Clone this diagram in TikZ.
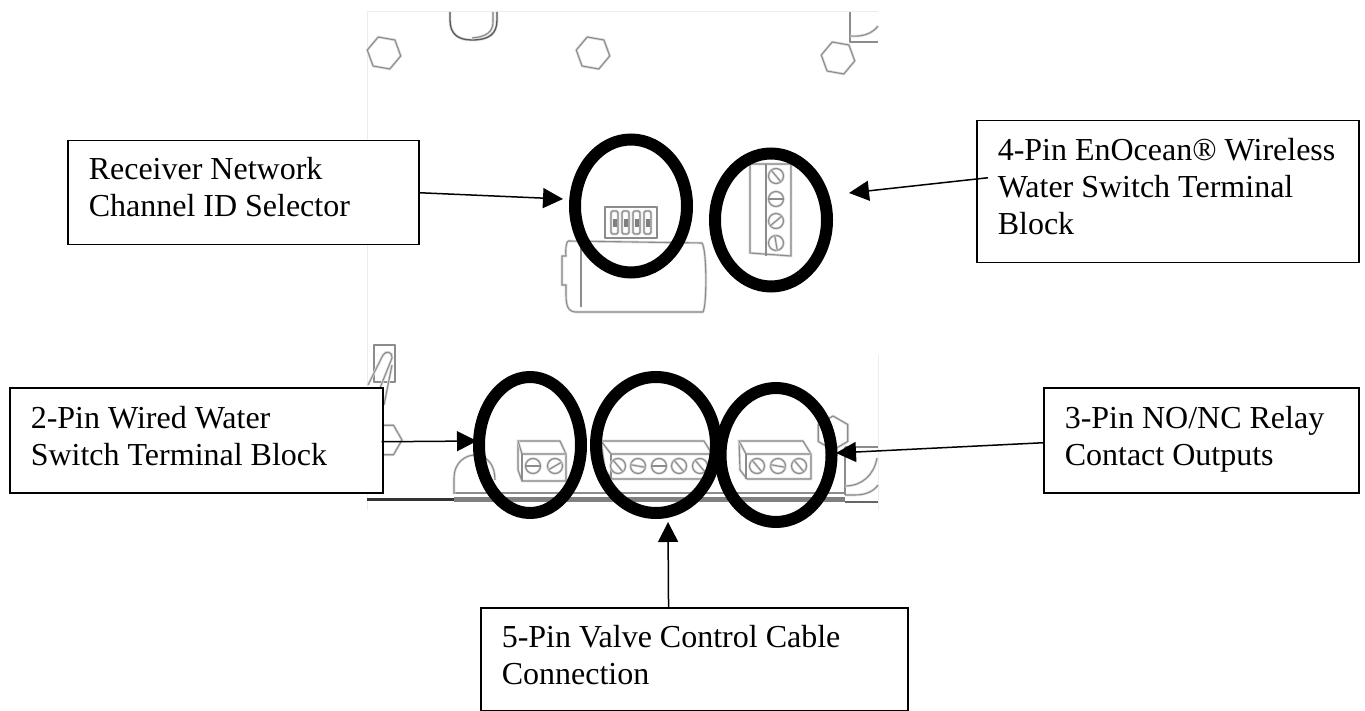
\documentclass[tikz,border=0pt]{standalone}
\usepackage{fontspec}
\setmainfont{Liberation Serif}
\usetikzlibrary{arrows.meta,shapes.geometric,calc}
\newcommand{\labeltext}[4]{\parbox[c][#2pt][t]{#1pt}{\fontsize{32pt}{36.7pt}\selectfont\raggedright\leftskip=21pt\relax\rule{0pt}{#3pt}#4\par}}
\newcommand{\screw}[3]{\draw[photoline] (#1,#2) circle (7.5);
  \draw[photoline] ($(#1,#2)+(#3:7.5)$) -- ($(#1,#2)+(#3+180:7.5)$);}
\newcommand{\hexa}[3]{\draw[photoline] (#1,#2) +(#3:17) -- +(#3+60:17) -- +(#3+120:17) -- +(#3+180:17) -- +(#3+240:17) -- +(#3+300:17) -- cycle;}
\tikzset{
  x=1pt,y=-1pt,
  photoline/.style={draw=black!45,line width=1.1pt,line join=round,preaction={draw=black!14,line width=2.6pt}},
  photodark/.style={draw=black!65,line width=1.3pt,preaction={draw=black!15,line width=2.8pt}},
  faint/.style={draw=black!7,line width=1pt},
  ring/.style={draw=black,line width=12pt,ellipse,inner sep=0pt},
  labelbox/.style={draw=black,line width=1.5pt,fill=white,inner sep=0pt,anchor=north west},
  pointer/.style={draw=black,line width=1.5pt,-{Triangle[length=20pt,width=20pt]}},
}
\begin{document}
\begin{tikzpicture}
\useasboundingbox (0,0) rectangle (1365,711);
% photo outline
\draw[faint] (367,12) -- (367,510);
\draw[faint] (367,12) -- (878,12);
\draw[faint] (878,355) -- (878,510);
\hexa{384}{53}{10}
\hexa{593}{53}{10}
\hexa{838}{58}{10}
\draw[photodark] (450,12) -- (450,20) .. controls (450,34) and (458,40) .. (472,40) .. controls (489,40) and (497,34) .. (497,20) -- (497,12);
\draw[photoline] (493,12) -- (493,22) .. controls (493,32) and (486,37) .. (472,38);
\draw[photoline] (850,12) -- (850,42) -- (878,42);
\draw[photoline] (850,36) .. controls (862,37) and (872,34) .. (878,26);
% capacitor
\draw[photoline] (568,241) -- (702,243) .. controls (707,250) and (707,305) .. (703,312) -- (575,312) .. controls (565,311) and (566,300) .. (566,285) -- (562,285) -- (562,256) -- (566,256) .. controls (565,248) and (567,241) .. (568,241);
\draw[photoline] (581,243) -- (581,307);
% DIP switch
\draw[photoline,fill=white] (605,207) rectangle (657,238);
\foreach \i in {611,622,633,644}{\draw[photoline,rounded corners=1.5pt] (\i,211) rectangle (\i+7,234);
  \fill[black!50] (\i+1.5,219) rectangle (\i+5.5,227);}
% 4-pin block
\draw[photoline] (750,164) -- (791,164) -- (791,256) -- (750,253) -- cycle;
\draw[photoline] (766,164) -- (766,256);
\screw{776}{176}{50}
\screw{776}{199}{0}
\screw{776}{221}{-40}
\screw{776}{243}{80}
% lower outline
\draw[draw=black!80,line width=3pt] (367,499) -- (454,499);
\draw[draw=black!50,line width=5pt] (454,499) -- (845,499);
\draw[draw=black!60,line width=2.5pt] (845,502) -- (878,502);
\draw[photoline] (454,493) -- (845,493);
\draw[photoline] (845,495) -- (855,495) .. controls (866,495) and (874,491) .. (878,485);
\draw[photoline] (454,494) -- (454,478) .. controls (454,463) and (465,455) .. (475,455) .. controls (487,455) and (495,465) .. (495,480);
\draw[photoline] (845,447) -- (845,495);
\draw[photoline] (845,447) -- (878,447);
\draw[photoline] (845,486) .. controls (862,486) and (874,475) .. (877,458);
\draw[photoline] (374,345) rectangle (395,382);
\draw[photoline] (368,385) -- (383,355) .. controls (386,350) and (393,352) .. (392,358) -- (380,388);
\draw[photoline] (392,365) -- (384,405);
\hexa{385}{440}{0}
\hexa{833}{433}{30}
% 2-pin block
\draw[photoline] (518,441) -- (560,441) -- (566,454) -- (566,481) -- (522,481) -- (518,470) -- cycle;
\draw[photoline] (518,441) -- (522,454) -- (566,454);
\draw[photoline] (522,454) -- (522,481);
\screw{533}{466}{0}
\screw{555}{466}{-30}
% 5-pin block
\draw[photoline] (601,441) -- (704,441) -- (712,454) -- (712,479) -- (612,479) -- (605,470) -- cycle;
\draw[photoline] (601,441) -- (611,454) -- (712,454);
\draw[photoline] (611,454) -- (611,479);
\screw{618}{466}{50}
\screw{638}{466}{10}
\screw{659}{466}{0}
\screw{679}{466}{50}
\screw{700}{466}{50}
% 3-pin block
\draw[photoline] (739,441) -- (803,441) -- (811,454) -- (811,479) -- (747,479) -- (740,470) -- cycle;
\draw[photoline] (739,441) -- (746,454) -- (811,454);
\draw[photoline] (746,454) -- (746,479);
\screw{757}{466}{50}
\screw{778}{466}{10}
\screw{799}{466}{50}
% rings
\node[ring,minimum width=112pt,minimum height=133pt] (ringdip) at (631,206) {};
\node[ring,minimum width=112pt,minimum height=133pt] (ringfour) at (771,220) {};
\node[ring,minimum width=102pt,minimum height=136pt] (ringtwo) at (530,445) {};
\node[ring,minimum width=120pt,minimum height=136pt] (ringfive) at (656,445) {};
\node[ring,minimum width=111pt,minimum height=134pt] (ringthree) at (776,455) {};
% label boxes
\node[labelbox] (recv) at (67,140) {\labeltext{351}{104}{39}{Receiver Network\\Channel ID Selector}};
\node[labelbox] (four) at (976,120) {\labeltext{382}{142}{40}{4-Pin EnOcean® Wireless\\Water Switch Terminal\\Block}};
\node[labelbox] (two) at (9,387) {\labeltext{373}{105}{41}{2-Pin Wired Water\\Switch Terminal Block}};
\node[labelbox] (three) at (1043,387) {\labeltext{315}{105}{41}{3-Pin NO/NC Relay\\Contact Outputs}};
\node[labelbox] (five) at (480,607) {\labeltext{427}{103}{40}{5-Pin Valve Control Cable\\Connection}};
% arrow tips and tails
\coordinate (tipdip) at (563,199);
\coordinate (tipfour) at (849,193);
\coordinate (tiptwo) at (477,441);
\coordinate (tipthree) at (836,453);
\coordinate (tipfive) at (668,522);
\coordinate (tailfive) at ($(five.north west)!0.44!(five.north east)$);
\coordinate (tailfour) at ($(four.west)+(12,-14)$);
\coordinate (tailtwo) at ($(two.east)+(-2,1.5)$);
\coordinate (tailthree) at ($(three.west)+(0,2.5)$);
\draw[pointer] (recv.east) -- (tipdip);
\draw[pointer] (tailfour) -- (tipfour);
\draw[pointer] (tailtwo) -- (tiptwo);
\draw[pointer] (tailthree) -- (tipthree);
\draw[pointer] (tailfive) -- (tipfive);
\end{tikzpicture}
\end{document}
